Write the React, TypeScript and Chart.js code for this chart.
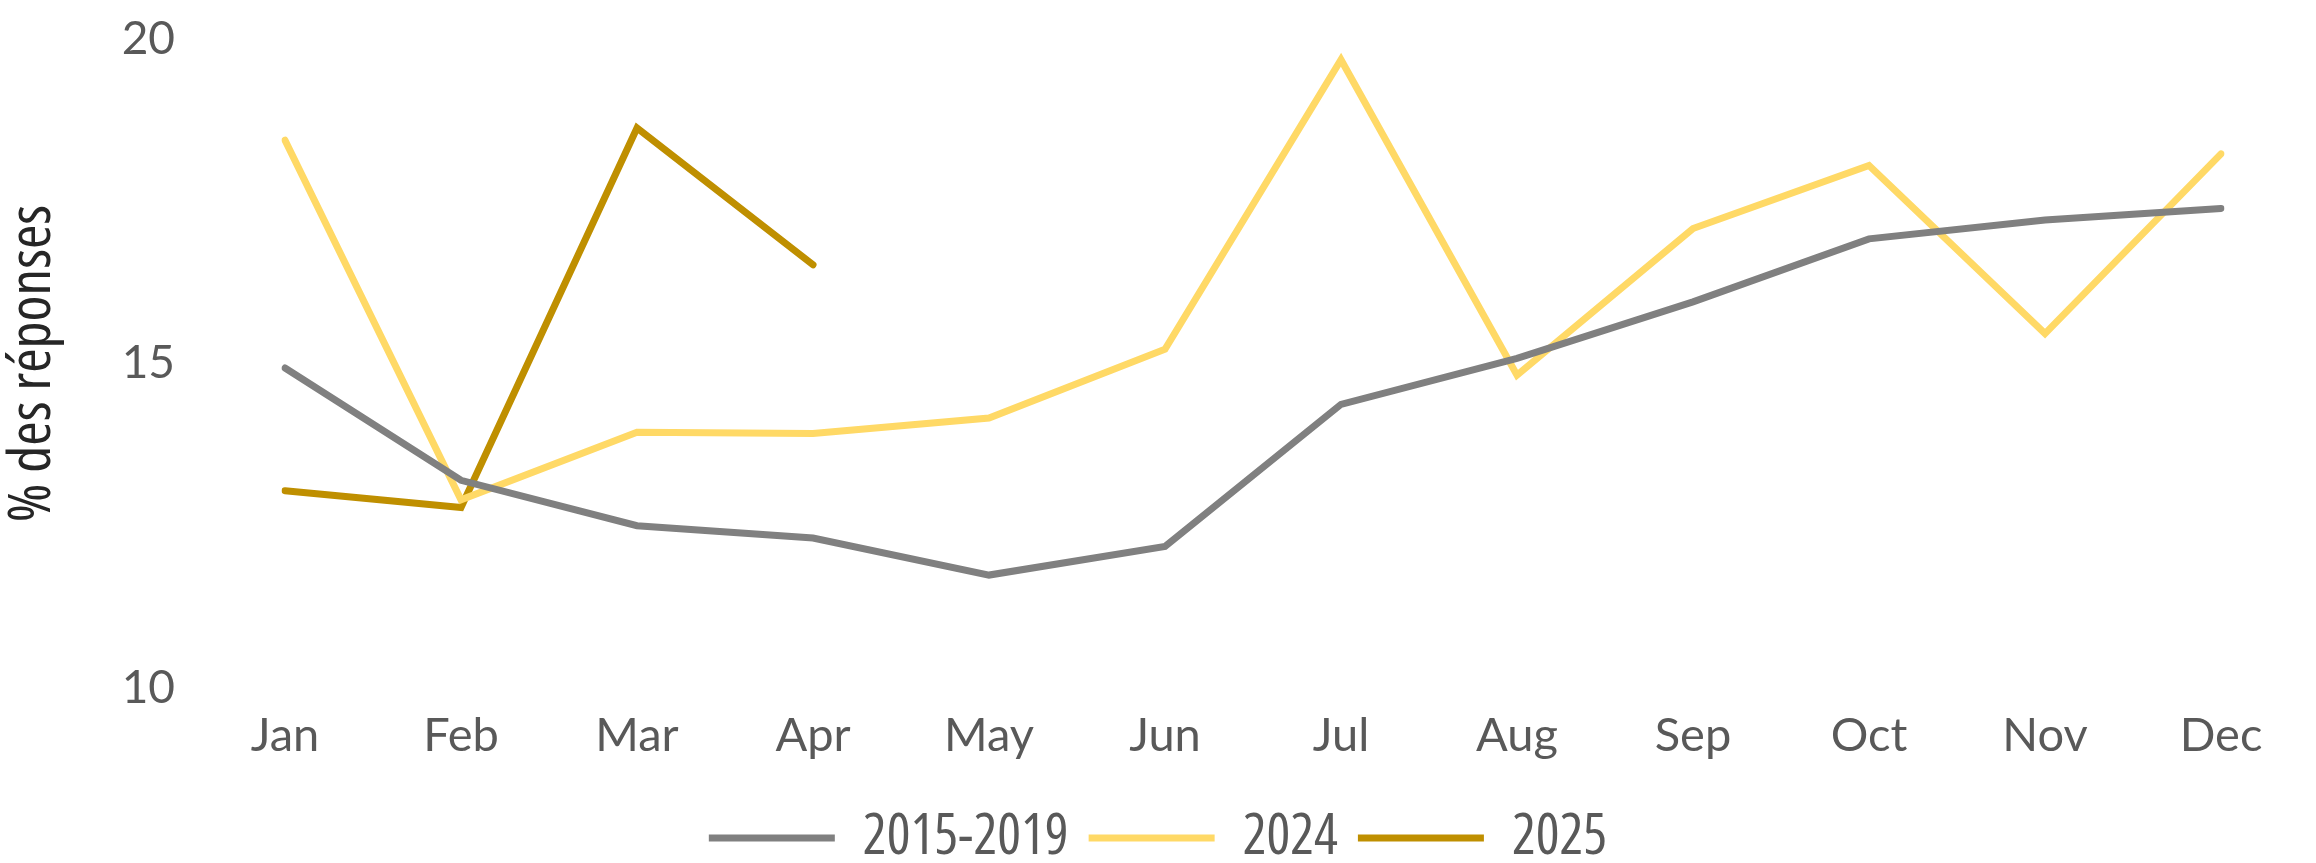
import React, { useEffect, useRef } from "react";
import { Chart, registerables } from "chart.js";

Chart.register(...registerables);

const months = ["Jan", "Feb", "Mar", "Apr", "May", "Jun", "Jul", "Aug", "Sep", "Oct", "Nov", "Dec"];
const avg2015_2019 = [14.93, 13.2, 12.5, 12.31, 11.74, 12.18, 14.37, 15.08, 15.95, 16.92, 17.21, 17.39];
const values2024 = [18.44, 12.9, 13.94, 13.92, 14.16, 15.22, 19.68, 14.82, 17.08, 18.05, 15.46, 18.23];
const values2025 = [13.04, 12.78, 18.63, 16.52, null, null, null, null, null, null, null, null];
const yTicks = [10, 15, 20];

const TEXT = "#595959";

export default function App() {
  const ref = useRef<HTMLCanvasElement | null>(null);
  useEffect(() => {
    if (!ref.current) return;
    const mk = (label: string, data: (number | null)[], color: string) => ({
      label,
      data,
      borderColor: color,
      backgroundColor: color,
      borderWidth: 7,
      borderCapStyle: "round" as const,
      borderJoinStyle: "miter" as const,
      pointRadius: 0,
      pointHoverRadius: 0,
      tension: 0,
      spanGaps: false,
    });
    const chart = new Chart(ref.current, {
      type: "line",
      data: {
        labels: months,
        datasets: [
          mk("2015-2019", avg2015_2019, "#808080"),
          mk("2024", values2024, "#FFD966"),
          mk("2025", values2025, "#BF8F00"),
        ],
      },
      options: {
        animation: false,
        responsive: false,
        maintainAspectRatio: false,
        layout: { padding: { top: 39, right: 0, left: 0, bottom: -13 } },
        plugins: {
          tooltip: { enabled: false },
          legend: {
            position: "bottom",
            labels: {
              usePointStyle: true,
              pointStyle: "line",
              pointStyleWidth: 126,
              boxHeight: 6,
              padding: 20,
              color: TEXT,
              font: { family: "'Open Sans', sans-serif", size: 56, weight: "condensed" as any },
            },
          },
        },
        scales: {
          x: {
            grid: { display: false, drawTicks: false },
            border: { display: false },
            ticks: {
              color: TEXT,
              padding: 20,
              maxRotation: 0,
              autoSkip: false,
              font: { family: "Lato, sans-serif", size: 47 },
            },
            afterFit: (s: any) => {
              s.height = 102;
              s.paddingRight = 95;
            },
          },
          y: {
            min: 10,
            max: 20,
            grid: { display: false, drawTicks: false },
            border: { display: false },
            afterBuildTicks: (s: any) => {
              s.ticks = yTicks.map((v) => ({ value: v }));
            },
            ticks: {
              color: TEXT,
              padding: 110,
              font: { family: "Lato, sans-serif", size: 46 },
            },
            title: {
              display: true,
              text: "% des réponses",
              color: "#262626",
              padding: { top: 5, bottom: 0 },
              font: { family: "'Open Sans', sans-serif", size: 59, lineHeight: 0.95, weight: "condensed" as any },
            },
            afterFit: (s: any) => {
              s.width = 285;
              s.paddingTop = 10;
              s.paddingBottom = 10;
            },
          },
        },
      },
    });
    return () => chart.destroy();
  }, []);
  return (
    <div style={{ position: "fixed", left: 0, top: 0, width: 2316, height: 863, background: "#fff" }}>
      <canvas ref={ref} width={2316} height={863} style={{ display: "block" }} />
    </div>
  );
}
